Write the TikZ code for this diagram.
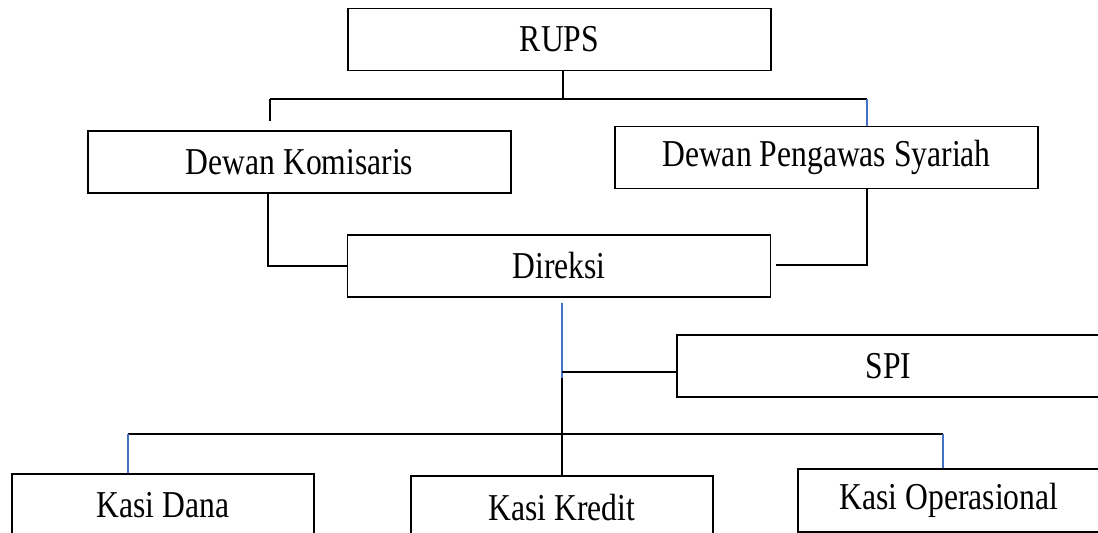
\documentclass[tikz,border=0pt]{standalone}
\usepackage{fontspec}
\setmainfont{Liberation Serif}
\usepackage{graphicx}
\usepackage{xcolor}
\usepackage{tikz}
\definecolor{linkblue}{RGB}{68,114,196}
\newcommand{\tallText}[1]{\scalebox{1}[1.2]{#1}}

\begin{document}
\begin{tikzpicture}[x=0.02cm, y=-0.02cm,
    unit/.style={draw, line width=0.8pt, minimum width=8.46cm, minimum height=1.24cm, inner sep=0pt, font=\fontsize{18}{20}\selectfont},
    kasi/.style={unit, minimum width=6.04cm, minimum height=1.26cm},
    link/.style={line width=1.1pt},
    bluelink/.style={linkblue, line width=0.7pt}]
    \clip (0,0) rectangle (1098,533);

    \node[unit] (rups) at (559.5,39.5) {\tallText{RUPS}};
    \node[unit] (dk) at (299.5,162) {\tallText{Dewan Komisaris}};
    \node[unit] (dps) at (826.5,157.5) {\tallText{Dewan Pengawas Syariah}};
    \node[unit] (direksi) at (559,266) {\tallText{Direksi}};
    \node[unit] (spi) at (888.5,366) {\tallText{SPI}};
    \node[kasi] (kdana) at (163,505.5) {\tallText{Kasi Dana}};
    \node[kasi] (kkredit) at (562,507.5) {\tallText{Kasi Kredit}};
    \node[kasi] (kop) at (949,500.5) {\tallText{Kasi Operasional}};

    \coordinate (tj) at (563,99);
    \coordinate (tl) at (270,99);
    \coordinate (tr) at (867,99);
    \coordinate (tlend) at (270,121);
    \draw[link] (rups.south -| tj) -- (tj);
    \draw[link] (tl) -- (tr);
    \draw[link] (tl) -- (tlend);
    \draw[bluelink] (tr) -- (tr |- dps.north);

    \coordinate (ml) at (268,266);
    \coordinate (mr) at (867,265);
    \coordinate (mrend) at (776,265);
    \draw[link] (dk.south -| ml) -- (ml) -- (ml -| direksi.west);
    \draw[link] (dps.south -| mr) -- (mr) -- (mrend);

    \coordinate (dtop) at (562,303);
    \coordinate (jspi) at (562,372);
    \coordinate (jblue) at (562,378);
    \draw[bluelink] (dtop) -- (jblue);
    \draw[link] (jspi) -- (jspi -| spi.west);
    \draw[link] (jblue) -- (kkredit.north);

    \coordinate (bl) at (128,434);
    \coordinate (br) at (943,434);
    \draw[link] (bl) -- (br);
    \draw[bluelink] (bl) -- (bl |- kdana.north);
    \draw[bluelink] (br) -- (br |- kop.north);
\end{tikzpicture}
\end{document}
